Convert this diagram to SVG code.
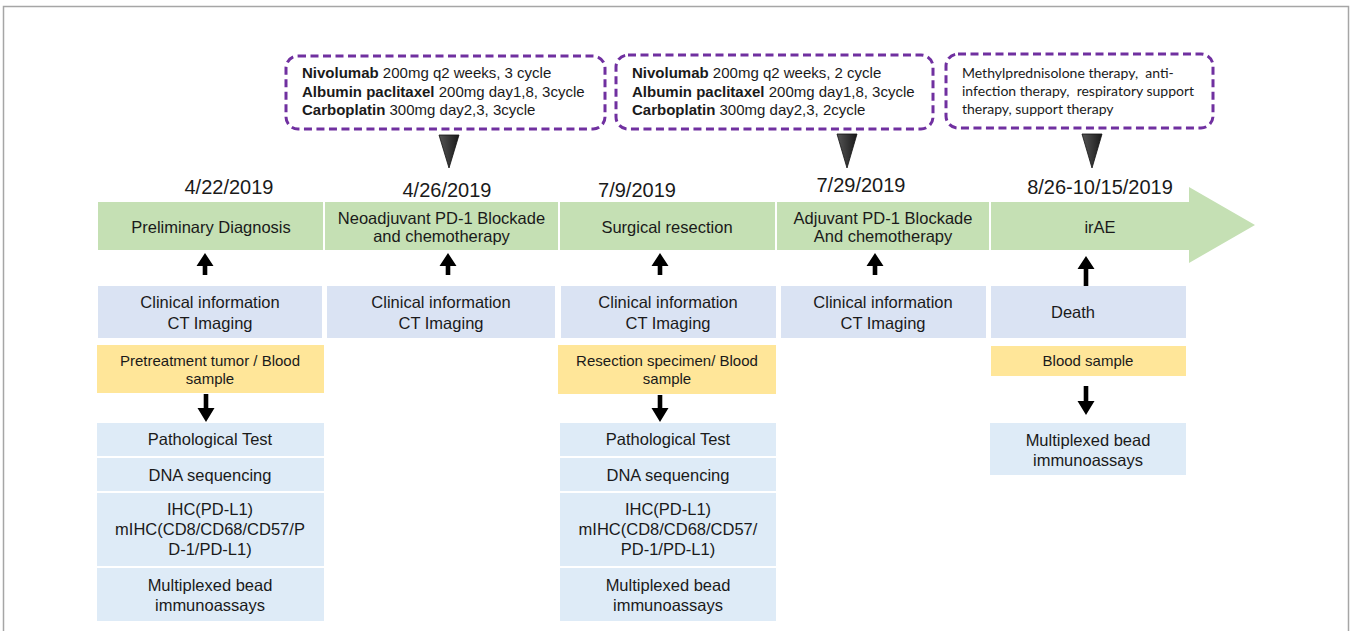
<svg xmlns="http://www.w3.org/2000/svg" width="1351" height="631" viewBox="0 0 1351 631">
<defs>
<style>
.t{font-family:"Liberation Sans",Arial,sans-serif;fill:#1a1a1a;text-anchor:middle}
.lbl{font-size:16.5px}
.date{font-size:20px}
.ys{font-size:15px}
.co{font-family:"Liberation Sans",Arial,sans-serif;font-size:15px;fill:#1a1a1a}
.co2{font-family:"Lato","Open Sans",sans-serif;font-size:14px;fill:#1a1a1a;white-space:pre}
.b{font-weight:bold}
.green{fill:#C5E0B4}
.blue{fill:#DAE3F3}
.lblue{fill:#DEEBF7}
.yellow{fill:#FFE699}
.callout{fill:#fff;stroke:#7030A0;stroke-width:3;stroke-dasharray:8 4.5}
.tri{fill:url(#triG);stroke:#111;stroke-width:0.8}
.arr{fill:#000}
</style>
<linearGradient id="triG" x1="0" y1="0" x2="1" y2="0">
<stop offset="0" stop-color="#555"/>
<stop offset="1" stop-color="#1a1a1a"/>
</linearGradient>
</defs>
<rect width="1351" height="631" fill="#fff"/>
<path d="M3.5 640 V6.5 H1348.5 V640" fill="none" stroke="#a6a6a6" stroke-width="1.5"/>

<g id="callout1">
<rect class="callout" x="286" y="56" width="319" height="73" rx="12"/>
<text class="co" x="302" y="78"><tspan class="b">Nivolumab</tspan> 200mg q2 weeks, 3 cycle</text>
<text class="co" x="302" y="96.5"><tspan class="b">Albumin paclitaxel</tspan> 200mg day1,8, 3cycle</text>
<text class="co" x="302" y="115"><tspan class="b">Carboplatin</tspan> 300mg day2,3, 3cycle</text>
<polygon class="tri" points="439,135 459,135 449,168"/>
</g>
<g id="callout2">
<rect class="callout" x="616" y="55" width="317" height="74" rx="12"/>
<text class="co" x="632" y="78"><tspan class="b">Nivolumab</tspan> 200mg q2 weeks, 2 cycle</text>
<text class="co" x="632" y="96.5"><tspan class="b">Albumin paclitaxel</tspan> 200mg day1,8, 3cycle</text>
<text class="co" x="632" y="115"><tspan class="b">Carboplatin</tspan> 300mg day2,3, 2cycle</text>
<polygon class="tri" points="837,134 857,134 847,168"/>
</g>
<g id="callout3">
<rect class="callout" x="946" y="54" width="267" height="74" rx="12"/>
<text class="co2" x="962" y="78" xml:space="preserve">Methylprednisolone therapy,  anti-</text>
<text class="co2" x="962" y="96" xml:space="preserve">infection therapy,  respiratory support</text>
<text class="co2" x="962" y="114">therapy, support therapy</text>
<polygon class="tri" points="1082,134 1102,134 1092,168"/>
</g>

<g id="dates">
<text class="t date" x="229" y="194">4/22/2019</text>
<text class="t date" x="447" y="197">4/26/2019</text>
<text class="t date" x="637" y="197">7/9/2019</text>
<text class="t date" x="861" y="192">7/29/2019</text>
<text class="t date" x="1100" y="194">8/26-10/15/2019</text>
</g>

<g id="seg1">
<rect class="green" x="98" y="202" width="225" height="48"/>
<text class="t lbl" x="211" y="233">Preliminary Diagnosis</text>
</g>
<g id="seg2">
<rect class="green" x="325" y="202" width="233" height="48"/>
<text class="t lbl" x="441.5" y="224">Neoadjuvant PD-1 Blockade</text>
<text class="t lbl" x="441.5" y="242">and chemotherapy</text>
</g>
<g id="seg3">
<rect class="green" x="560" y="202" width="215" height="48"/>
<text class="t lbl" x="667" y="233">Surgical resection</text>
</g>
<g id="seg4">
<rect class="green" x="777" y="202" width="212" height="48"/>
<text class="t lbl" x="883" y="224">Adjuvant PD-1 Blockade</text>
<text class="t lbl" x="883" y="242">And chemotherapy</text>
</g>
<g id="seg5">
<polygon class="green" points="991,202 1189,202 1189,187 1255,225 1189,263 1189,250 991,250"/>
<text class="t lbl" x="1100" y="233">irAE</text>
</g>

<g id="clin1">
<rect class="blue" x="98" y="286" width="224" height="52"/>
<text class="t lbl" x="210" y="308">Clinical information</text>
<text class="t lbl" x="210" y="329">CT Imaging</text>
</g>
<g id="clin2">
<rect class="blue" x="327" y="286" width="228" height="52"/>
<text class="t lbl" x="441" y="308">Clinical information</text>
<text class="t lbl" x="441" y="329">CT Imaging</text>
</g>
<g id="clin3">
<rect class="blue" x="561" y="286" width="215" height="52"/>
<text class="t lbl" x="668" y="308">Clinical information</text>
<text class="t lbl" x="668" y="329">CT Imaging</text>
</g>
<g id="clin4">
<rect class="blue" x="781" y="286" width="205" height="52"/>
<text class="t lbl" x="883" y="308">Clinical information</text>
<text class="t lbl" x="883" y="329">CT Imaging</text>
</g>
<g id="death">
<rect class="blue" x="991" y="286" width="195" height="52"/>
<text class="t lbl" x="1073" y="318">Death</text>
</g>

<g id="sample1">
<rect class="yellow" x="97" y="345" width="227" height="48"/>
<text class="t ys" x="210" y="366">Pretreatment tumor / Blood</text>
<text class="t ys" x="210" y="384">sample</text>
</g>
<g id="sample3">
<rect class="yellow" x="558" y="345" width="218" height="49"/>
<text class="t ys" x="667" y="366">Resection specimen/ Blood</text>
<text class="t ys" x="667" y="384">sample</text>
</g>
<g id="sample5">
<rect class="yellow" x="991" y="346" width="195" height="30"/>
<text class="t ys" x="1088" y="366">Blood sample</text>
</g>

<g id="tests1">
<rect class="lblue" x="97" y="423" width="227" height="33"/>
<text class="t lbl" x="210" y="445">Pathological Test</text>
<rect class="lblue" x="97" y="458" width="227" height="33"/>
<text class="t lbl" x="210" y="481">DNA sequencing</text>
<rect class="lblue" x="97" y="493" width="227" height="73"/>
<text class="t lbl" x="210" y="515">IHC(PD-L1)</text>
<text class="t lbl" x="210" y="535">mIHC(CD8/CD68/CD57/P</text>
<text class="t lbl" x="210" y="555">D-1/PD-L1)</text>
<rect class="lblue" x="97" y="568" width="227" height="53"/>
<text class="t lbl" x="210" y="591">Multiplexed bead</text>
<text class="t lbl" x="210" y="611">immunoassays</text>
</g>
<g id="tests3">
<rect class="lblue" x="560" y="423" width="216" height="33"/>
<text class="t lbl" x="668" y="445">Pathological Test</text>
<rect class="lblue" x="560" y="458" width="216" height="33"/>
<text class="t lbl" x="668" y="481">DNA sequencing</text>
<rect class="lblue" x="560" y="493" width="216" height="73"/>
<text class="t lbl" x="668" y="515">IHC(PD-L1)</text>
<text class="t lbl" x="668" y="535">mIHC(CD8/CD68/CD57/</text>
<text class="t lbl" x="668" y="555">PD-1/PD-L1)</text>
<rect class="lblue" x="560" y="568" width="216" height="53"/>
<text class="t lbl" x="668" y="591">Multiplexed bead</text>
<text class="t lbl" x="668" y="611">immunoassays</text>
</g>
<g id="tests5">
<rect class="lblue" x="990" y="423" width="196" height="52"/>
<text class="t lbl" x="1088" y="446">Multiplexed bead</text>
<text class="t lbl" x="1088" y="466">immunoassays</text>
</g>

<g id="connectors">
<path class="arr" d="M205 253 L213.5 266 L207.3 266 L207.3 275 L202.7 275 L202.7 266 L196.5 266 Z"/>
<path class="arr" d="M448 253 L456.5 266 L450.3 266 L450.3 275 L445.7 275 L445.7 266 L439.5 266 Z"/>
<path class="arr" d="M660 253 L668.5 266 L662.3 266 L662.3 275 L657.7 275 L657.7 266 L651.5 266 Z"/>
<path class="arr" d="M875 253 L883.5 266 L877.3 266 L877.3 275 L872.7 275 L872.7 266 L866.5 266 Z"/>
<path class="arr" d="M1086 256 L1094.5 269 L1088.3 269 L1088.3 286 L1083.7 286 L1083.7 269 L1077.5 269 Z"/>
<path class="arr" d="M206 422 L197.5 408 L203.7 408 L203.7 394 L208.3 394 L208.3 408 L214.5 408 Z"/>
<path class="arr" d="M660 422 L651.5 408 L657.7 408 L657.7 395 L662.3 395 L662.3 408 L668.5 408 Z"/>
<path class="arr" d="M1086 415 L1077.5 401 L1083.7 401 L1083.7 386 L1088.3 386 L1088.3 401 L1094.5 401 Z"/>
</g>
</svg>
